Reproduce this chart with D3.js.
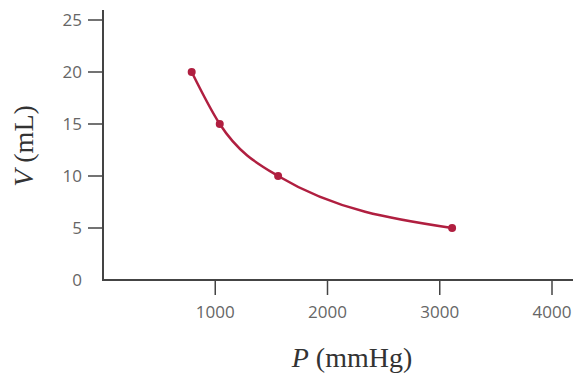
<!DOCTYPE html>
<html>
<head>
<meta charset="utf-8">
<script src="https://d3js.org/d3.v7.min.js"></script>
<style>
body { margin: 0; background: #fff; }
</style>
</head>
<body>
<script>
// pressure (mmHg) vs volume (mL)
const pressures = [790, 1040, 1560, 3110]
const volumes = [20, 15, 10, 5]
const xTicks = [1000, 2000, 3000, 4000]
const yTicks = [5, 10, 15, 20, 25]

const W = 573, H = 373
const margin = {top: 10, right: 0, bottom: 93, left: 103}

const svg = d3.select('body').append('svg')
    .attr('width', W)
    .attr('height', H)

const x = d3.scaleLinear().domain([0, 4000]).range([margin.left, 552])
const y = d3.scaleLinear().domain([0, 25]).range([H - margin.bottom, 20])

const axisColor = '#444'
const textColor = '#666'

// x axis
const xg = svg.append('g')
    .attr('transform', `translate(0,${y(0)})`)
xg.append('line')
    .attr('x1', margin.left).attr('x2', W)
    .attr('stroke', axisColor).attr('stroke-width', 2)
xg.selectAll('.tick').data(xTicks).enter().append('line')
    .attr('x1', d => x(d)).attr('x2', d => x(d))
    .attr('y1', 1).attr('y2', 15)
    .attr('stroke', axisColor).attr('stroke-width', 1.5)
xg.selectAll('.lbl').data(xTicks).enter().append('text')
    .attr('x', d => x(d)).attr('y', 38)
    .attr('text-anchor', 'middle')
    .attr('font-family', 'Open Sans, sans-serif')
    .attr('font-size', 17)
    .attr('fill', textColor)
    .text(d => d)

// y axis
const yg = svg.append('g')
yg.append('line')
    .attr('x1', x(0)).attr('x2', x(0))
    .attr('y1', margin.top).attr('y2', y(0) + 1)
    .attr('stroke', axisColor).attr('stroke-width', 2)
yg.selectAll('.tick').data(yTicks).enter().append('line')
    .attr('x1', x(0) - 15).attr('x2', x(0))
    .attr('y1', d => y(d)).attr('y2', d => y(d))
    .attr('stroke', axisColor).attr('stroke-width', 1.5)
yg.selectAll('.lbl').data([0].concat(yTicks)).enter().append('text')
    .attr('x', 82).attr('y', d => y(d))
    .attr('dy', '0.36em')
    .attr('text-anchor', 'end')
    .attr('font-family', 'Open Sans, sans-serif')
    .attr('font-size', 17)
    .attr('fill', textColor)
    .text(d => d)

// axis titles
const xt = svg.append('text')
    .attr('x', 352).attr('y', 367)
    .attr('text-anchor', 'middle')
    .attr('font-family', 'Liberation Serif, serif')
    .attr('font-size', 28)
    .attr('fill', '#333')
xt.append('tspan').attr('font-style', 'italic').text('P')
xt.append('tspan').text(' (mmHg)')

const yt = svg.append('text')
    .attr('transform', 'translate(33,146) rotate(-90)')
    .attr('text-anchor', 'middle')
    .attr('font-family', 'Liberation Serif, serif')
    .attr('font-size', 28)
    .attr('fill', '#333')
yt.append('tspan').attr('font-style', 'italic').text('V')
yt.append('tspan').text(' (mL)')

// curve
const pts = pressures.map((p, i) => [p, volumes[i]])
const color = '#b01f40'
svg.append('path')
    .datum(pts)
    .attr('fill', 'none')
    .attr('stroke', color)
    .attr('stroke-width', 2.5)
    .attr('d', d3.line()
        .x(d => x(d[0]))
        .y(d => y(d[1]))
        .curve(d3.curveMonotoneX))

svg.selectAll('circle').data(pts).enter().append('circle')
    .attr('cx', d => x(d[0]))
    .attr('cy', d => y(d[1]))
    .attr('r', 4)
    .attr('fill', color)
</script>
</body>
</html>
